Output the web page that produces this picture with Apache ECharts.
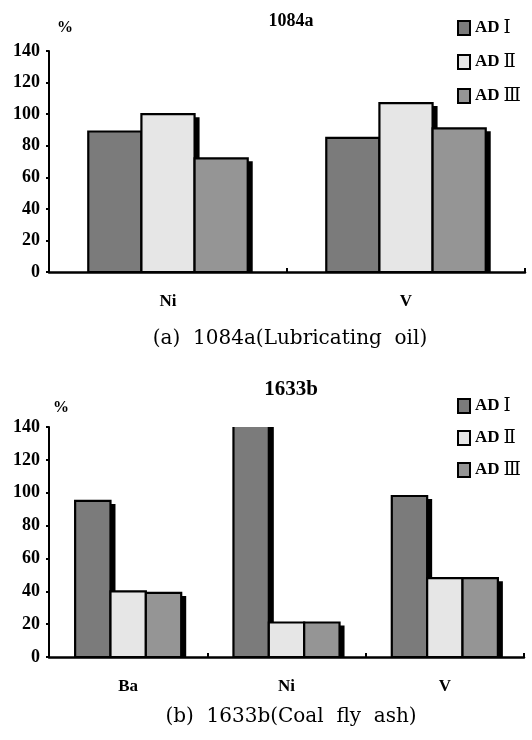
<!DOCTYPE html>
<html><head><meta charset="utf-8">
<script src="https://cdn.jsdelivr.net/npm/echarts@6/dist/echarts.min.js"></script>
<style>html,body{margin:0;padding:0;background:#fff}#c{width:532px;height:740px}</style>
</head><body><div id="c"></div>
<script>
var seriesNames = ['AD Ⅰ', 'AD Ⅱ', 'AD Ⅲ'];
var catsA = ['Ni', 'V'];
var a_AD1 = [89, 85];
var a_AD2 = [100, 107];
var a_AD3 = [72, 91];
var catsB = ['Ba', 'Ni', 'V'];
var b_AD1 = [95, 150, 98];
var b_AD2 = [40, 21, 48];
var b_AD3 = [39, 21, 48];
var yTicks = [0, 20, 40, 60, 80, 100, 120, 140];
var titleA = '1084a', titleB = '1633b';
var captionA = '(a)  1084a(Lubricating  oil)';
var captionB = '(b)  1633b(Coal  fly  ash)';

var colors = ['#7b7b7b', '#e6e6e6', '#959595'];
var serif = 'Liberation Serif';
var GAP = 0.33;

function yAxis(gi) {
  return {
    gridIndex: gi, type: 'value', min: yTicks[0], max: yTicks[yTicks.length - 1], interval: 20,
    axisLine: {show: true, lineStyle: {color: '#000', width: 2}},
    axisTick: {show: true, length: 3, lineStyle: {color: '#000', width: 2}},
    splitLine: {show: false},
    axisLabel: {color: '#000', fontFamily: serif, fontWeight: 'bold', fontSize: 18, margin: 9}
  };
}
function xAxis(gi, cats) {
  return {
    gridIndex: gi, type: 'category', data: cats,
    axisLine: {show: true, lineStyle: {color: '#000', width: 2.5}},
    axisTick: {show: true, inside: true, length: 4, lineStyle: {color: '#000', width: 2}},
    axisLabel: {color: '#000', fontFamily: serif, fontWeight: 'bold', fontSize: 17, margin: 21}
  };
}
function bar(name, gi, values, idx) {
  return {
    name: name, type: 'custom', xAxisIndex: gi, yAxisIndex: gi, clip: true,
    data: values.map(function(v, i){ return [i, v]; }),
    encode: {x: 0, y: 1},
    itemStyle: {color: colors[idx], borderColor: '#000', borderWidth: 2},
    renderItem: function(params, api) {
      var cat = api.value(0), val = api.value(1);
      var base = api.coord([cat, 0]);
      var top = api.coord([cat, val]);
      var band = api.size([1, 0])[0];
      var groupW = band * (1 - GAP);
      var w = groupW / 3;
      var x = base[0] - groupW / 2 + idx * w;
      var h = base[1] - top[1];
      return {type: 'group', children: [
        {type: 'rect', shape: {x: x + 5, y: top[1] + 3, width: w, height: h - 3}, style: {fill: '#000'}},
        {type: 'rect', shape: {x: x, y: top[1], width: w, height: h}, style: {fill: colors[idx], stroke: '#000', lineWidth: 2.2}}
      ]};
    }
  };
}
var legendRich = {
  a: {fontFamily: serif, fontWeight: 'bold', fontSize: 17, color: '#000'},
  b: {fontFamily: 'DejaVu Serif, Noto Sans CJK KR', fontSize: 18, color: '#000', padding: [0, 0, 0, 4]}
};
function legend(top, gap) {
  return {
    orient: 'vertical', left: 457, top: top, padding: 0, itemWidth: 12, itemHeight: 14, itemGap: gap,
    icon: 'rect', data: seriesNames.map(function(n, i){return {name: n, itemStyle: {color: colors[i], borderColor: '#000', borderWidth: 2}};}),
    formatter: function(n){ var p = n.split(' '); return '{a|' + p[0] + '}{b|' + p[1] + '}'; },
    textStyle: {rich: legendRich}, selectedMode: false
  };
}

var chart = echarts.init(document.getElementById('c'));
chart.setOption({
  animation: false,
  title: [
    {text: titleA, left: 291, textAlign: 'center', top: 12, padding: 0, textStyle: {fontFamily: serif, fontWeight: 'bold', fontSize: 18, color: '#000'}},
    {text: titleB, left: 291, textAlign: 'center', top: 379, padding: 0, textStyle: {fontFamily: serif, fontWeight: 'bold', fontSize: 21, color: '#000'}},
    {text: captionA, left: 290, textAlign: 'center', top: 329, padding: 0, textStyle: {fontFamily: 'DejaVu Serif', fontWeight: 'normal', fontSize: 20, color: '#000'}},
    {text: captionB, left: 291, textAlign: 'center', top: 707, padding: 0, textStyle: {fontFamily: 'DejaVu Serif', fontWeight: 'normal', fontSize: 20, color: '#000'}},
    {text: '%', left: 57, top: 20, padding: 0, textStyle: {fontFamily: serif, fontWeight: 'bold', fontSize: 16, color: '#000'}},
    {text: '%', left: 53, top: 400, padding: 0, textStyle: {fontFamily: serif, fontWeight: 'bold', fontSize: 16, color: '#000'}}
  ],
  legend: [legend(19, 16), legend(397, 14)],
  grid: [
    {left: 49, right: 7, top: 51, height: 221, containLabel: false},
    {left: 49, right: 8, top: 427, height: 230, containLabel: false}
  ],
  xAxis: [xAxis(0, catsA), xAxis(1, catsB)],
  yAxis: [yAxis(0), yAxis(1)],
  series: [
    bar(seriesNames[0], 0, a_AD1, 0), bar(seriesNames[1], 0, a_AD2, 1), bar(seriesNames[2], 0, a_AD3, 2),
    bar(seriesNames[0], 1, b_AD1, 0), bar(seriesNames[1], 1, b_AD2, 1), bar(seriesNames[2], 1, b_AD3, 2)
  ]
});
</script></body></html>
